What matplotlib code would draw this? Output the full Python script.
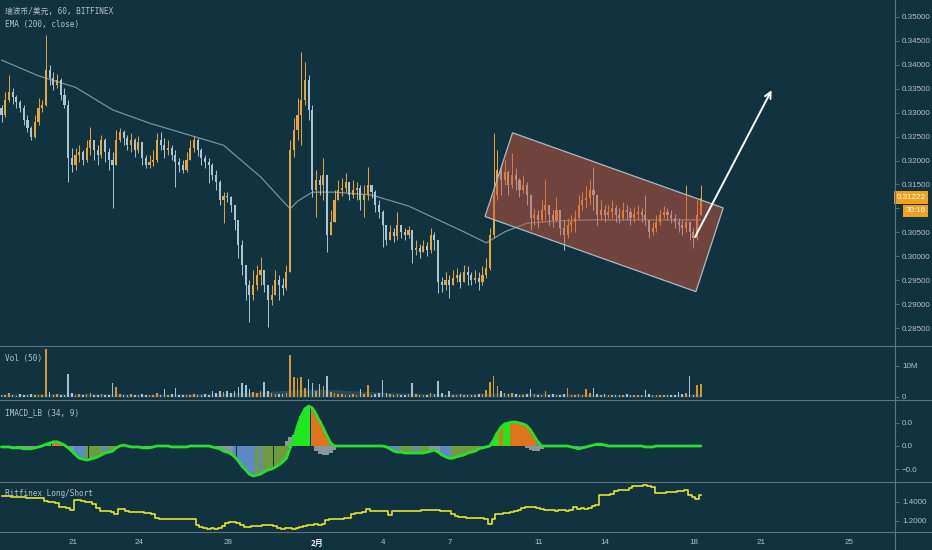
import matplotlib
matplotlib.use('Agg')
import matplotlib.pyplot as plt
import numpy as np
from matplotlib.patches import Polygon
from matplotlib.lines import Line2D
from matplotlib.ticker import FuncFormatter
import matplotlib.transforms as mtransforms

plt.rcParams['font.family'] = ['Liberation Sans', 'Noto Sans CJK SC', 'DejaVu Sans']

BG = '#11333f'
TXT = '#b3c2ca'
SEP = '#5a7684'
UP = '#e9a53b'
DN = '#a9c6d6'

# ---------------- data (4-hour bars, x in day-of-January units) ----------------
start_day = 17.8
step_days = 4 / 24
open0 = 0.3310

close = [
    0.3295, 0.3327, 0.3343, 0.3333, 0.3322, 0.3310, 0.3285, 0.3268, 0.3249, 0.3281,
    0.3310, 0.3316, 0.3389, 0.3372, 0.3358, 0.3368, 0.3337, 0.3316, 0.3205, 0.3191,
    0.3212, 0.3218, 0.3201, 0.3226, 0.3243, 0.3222, 0.3212, 0.3243, 0.3218, 0.3201,
    0.3191, 0.3243, 0.3260, 0.3247, 0.3232, 0.3243, 0.3222, 0.3239, 0.3205, 0.3191,
    0.3197, 0.3201, 0.3243, 0.3232, 0.3222, 0.3226, 0.3212, 0.3197, 0.3191, 0.3180,
    0.3201, 0.3226, 0.3243, 0.3222, 0.3205, 0.3197, 0.3191, 0.3170, 0.3155, 0.3118,
    0.3126, 0.3124, 0.3107, 0.3076, 0.3023, 0.2982, 0.2940, 0.2919, 0.2940, 0.2961,
    0.2971, 0.2940, 0.2909, 0.2919, 0.2950, 0.2940, 0.2934, 0.2967, 0.3222, 0.3264,
    0.3295, 0.3327, 0.3368, 0.3306, 0.3138, 0.3159, 0.3149, 0.3170, 0.3044, 0.3072,
    0.3118, 0.3138, 0.3143, 0.3155, 0.3128, 0.3138, 0.3143, 0.3118, 0.3128, 0.3149,
    0.3134, 0.3107, 0.3092, 0.3065, 0.3034, 0.3051, 0.3042, 0.3065, 0.3051, 0.3044,
    0.3055, 0.3013, 0.3017, 0.3009, 0.3021, 0.3013, 0.3044, 0.3034, 0.2946, 0.2940,
    0.2950, 0.2940, 0.2954, 0.2961, 0.2946, 0.2967, 0.2961, 0.2950, 0.2954, 0.2946,
    0.2961, 0.2975, 0.3044, 0.3128, 0.3180, 0.3159, 0.3176, 0.3149, 0.3170, 0.3159,
    0.3138, 0.3149, 0.3128, 0.3080, 0.3086, 0.3076, 0.3097, 0.3107, 0.3086, 0.3076,
    0.3097, 0.3059, 0.3044, 0.3065, 0.3072, 0.3080, 0.3107, 0.3118, 0.3122, 0.3138,
    0.3128, 0.3086, 0.3097, 0.3086, 0.3092, 0.3101, 0.3086, 0.3080, 0.3097, 0.3092,
    0.3080, 0.3088, 0.3092, 0.3086, 0.3076, 0.3051, 0.3059, 0.3072, 0.3086, 0.3092,
    0.3086, 0.3080, 0.3072, 0.3065, 0.3059, 0.3072, 0.3051, 0.3038, 0.3086, 0.31222,
]

high = [
    0.3316, 0.3343, 0.3379, 0.3352, 0.3337, 0.3327, 0.3316, 0.3295, 0.3272, 0.3295,
    0.3331, 0.3327, 0.3462, 0.3400, 0.3385, 0.3381, 0.3372, 0.3352, 0.3327, 0.3226,
    0.3226, 0.3232, 0.3222, 0.3243, 0.3270, 0.3243, 0.3232, 0.3253, 0.3247, 0.3226,
    0.3218, 0.3264, 0.3268, 0.3264, 0.3253, 0.3258, 0.3247, 0.3251, 0.3232, 0.3212,
    0.3212, 0.3222, 0.3258, 0.3260, 0.3247, 0.3243, 0.3232, 0.3222, 0.3205, 0.3201,
    0.3218, 0.3243, 0.3251, 0.3247, 0.3226, 0.3212, 0.3205, 0.3195, 0.3180, 0.3159,
    0.3134, 0.3134, 0.3126, 0.3107, 0.3065, 0.3034, 0.2971, 0.2950, 0.2971, 0.2982,
    0.2998, 0.2971, 0.2940, 0.2940, 0.2971, 0.2961, 0.2954, 0.2982, 0.3243, 0.3289,
    0.3331, 0.3427, 0.3406, 0.3379, 0.3316, 0.3180, 0.3170, 0.3205, 0.3159, 0.3097,
    0.3138, 0.3159, 0.3163, 0.3174, 0.3153, 0.3159, 0.3155, 0.3149, 0.3149, 0.3186,
    0.3149, 0.3138, 0.3118, 0.3097, 0.3065, 0.3065, 0.3059, 0.3092, 0.3065, 0.3059,
    0.3063, 0.3055, 0.3034, 0.3026, 0.3034, 0.3030, 0.3059, 0.3051, 0.3034, 0.2957,
    0.2967, 0.2961, 0.2971, 0.2975, 0.2967, 0.2982, 0.2980, 0.2967, 0.2971, 0.2967,
    0.2980, 0.2996, 0.3059, 0.3258, 0.3222, 0.3191, 0.3201, 0.3180, 0.3216, 0.3184,
    0.3163, 0.3170, 0.3155, 0.3128, 0.3101, 0.3097, 0.3118, 0.3159, 0.3107, 0.3097,
    0.3124, 0.3097, 0.3076, 0.3080, 0.3086, 0.3097, 0.3128, 0.3134, 0.3149, 0.3159,
    0.3186, 0.3128, 0.3118, 0.3107, 0.3107, 0.3118, 0.3107, 0.3101, 0.3113, 0.3107,
    0.3101, 0.3103, 0.3107, 0.3101, 0.3128, 0.3076, 0.3072, 0.3086, 0.3097, 0.3105,
    0.3101, 0.3097, 0.3088, 0.3080, 0.3076, 0.3149, 0.3072, 0.3059, 0.3118, 0.3149,
]

low = [
    0.3281, 0.3291, 0.3322, 0.3318, 0.3310, 0.3301, 0.3274, 0.3260, 0.3243, 0.3247,
    0.3274, 0.3301, 0.3314, 0.3358, 0.3347, 0.3352, 0.3327, 0.3310, 0.3155, 0.3176,
    0.3180, 0.3197, 0.3191, 0.3197, 0.3212, 0.3201, 0.3191, 0.3205, 0.3197, 0.3180,
    0.3101, 0.3201, 0.3239, 0.3232, 0.3222, 0.3218, 0.3207, 0.3216, 0.3191, 0.3184,
    0.3184, 0.3189, 0.3197, 0.3222, 0.3205, 0.3212, 0.3201, 0.3145, 0.3176, 0.3174,
    0.3176, 0.3201, 0.3218, 0.3209, 0.3191, 0.3184, 0.3153, 0.3159, 0.3138, 0.3107,
    0.3069, 0.3113, 0.3092, 0.3055, 0.2996, 0.2961, 0.2909, 0.2863, 0.2909, 0.2929,
    0.2940, 0.2925, 0.2852, 0.2898, 0.2929, 0.2909, 0.2919, 0.2929, 0.2967, 0.3207,
    0.3243, 0.3232, 0.3316, 0.3285, 0.3124, 0.3082, 0.3128, 0.3118, 0.3009, 0.3044,
    0.3086, 0.3118, 0.3126, 0.3134, 0.3118, 0.3122, 0.3118, 0.3097, 0.3082, 0.3118,
    0.3122, 0.3092, 0.3080, 0.3019, 0.3023, 0.3034, 0.3030, 0.3034, 0.3038, 0.3034,
    0.3038, 0.2986, 0.3003, 0.2996, 0.3009, 0.3000, 0.3007, 0.3013, 0.2923, 0.2925,
    0.2929, 0.2913, 0.2940, 0.2946, 0.2934, 0.2950, 0.2940, 0.2940, 0.2944, 0.2929,
    0.2940, 0.2954, 0.2971, 0.3038, 0.3118, 0.3128, 0.3149, 0.3128, 0.3143, 0.3138,
    0.3124, 0.3132, 0.3107, 0.3055, 0.3065, 0.3059, 0.3072, 0.3076, 0.3065, 0.3061,
    0.3072, 0.3044, 0.3013, 0.3038, 0.3051, 0.3051, 0.3076, 0.3097, 0.3101, 0.3107,
    0.3097, 0.3065, 0.3076, 0.3072, 0.3080, 0.3080, 0.3072, 0.3069, 0.3076, 0.3076,
    0.3065, 0.3072, 0.3076, 0.3072, 0.3065, 0.3038, 0.3044, 0.3051, 0.3065, 0.3080,
    0.3076, 0.3069, 0.3059, 0.3051, 0.3044, 0.3051, 0.3034, 0.3017, 0.3034, 0.3086,
]

# EMA(200) read at selected bars
ema_idx = [0, 10, 20, 30, 40, 50, 60, 70, 78, 80, 84, 90, 100, 110, 120, 125, 131,
           136, 142, 150, 160, 170, 180, 189]
ema_val = [0.3410, 0.3377, 0.3353, 0.3306, 0.3278, 0.3255, 0.3232, 0.3166, 0.3099,
           0.3115, 0.3134, 0.3134, 0.3128, 0.3105, 0.3069, 0.3051, 0.3028, 0.3051,
           0.3069, 0.3074, 0.3076, 0.3076, 0.3076, 0.3076]

# volume in millions
volume_m = [
    0.5, 0.8, 1.2, 0.6, 0.4, 0.9, 0.5, 0.7, 1.1, 0.6,
    0.8, 0.5, 15.5, 1.5, 0.6, 0.9, 0.5, 0.7, 7.4, 1.2,
    0.8, 1.0, 0.6, 0.9, 1.3, 0.7, 0.5, 0.9, 0.6, 0.8,
    4.5, 3.2, 0.9, 0.6, 0.7, 1.0, 0.5, 0.8, 1.1, 0.6,
    0.5, 0.7, 1.4, 0.8, 2.6, 0.6, 0.9, 2.9, 0.7, 0.5,
    0.8, 0.6, 1.0, 0.7, 0.5, 0.9, 0.8, 2.0, 1.2, 2.0,
    1.5, 2.0, 1.4, 1.8, 3.2, 4.5, 4.0, 2.5, 1.5, 1.2,
    1.8, 4.8, 2.0, 1.3, 1.1, 0.9, 1.0, 1.4, 13.5, 6.5,
    6.0, 6.5, 3.0, 5.8, 4.5, 2.0, 4.3, 3.5, 6.8, 1.5,
    1.2, 0.9, 1.0, 0.8, 0.7, 1.1, 0.6, 2.6, 0.9, 3.9,
    0.8, 1.0, 1.2, 5.5, 1.4, 0.9, 0.8, 1.1, 0.7, 0.6,
    0.9, 4.5, 1.0, 0.7, 0.6, 0.8, 1.2, 0.9, 5.2, 1.4,
    0.8, 1.9, 0.7, 0.6, 0.9, 0.5, 0.8, 0.6, 0.7, 0.9,
    1.0, 2.3, 4.8, 6.8, 3.5, 1.8, 1.2, 0.9, 1.4, 1.0,
    0.8, 0.7, 1.0, 2.5, 0.9, 0.8, 0.6, 2.0, 0.7, 0.9,
    0.6, 0.8, 1.1, 2.8, 0.7, 0.6, 0.9, 0.8, 2.6, 1.2,
    2.8, 1.0, 0.7, 0.9, 0.6, 0.5, 0.8, 0.7, 0.6, 0.9,
    0.5, 0.7, 0.8, 0.6, 2.3, 0.9, 0.6, 0.5, 0.7, 0.6,
    0.8, 0.5, 0.7, 1.5, 0.9, 1.2, 6.8, 0.8, 3.9, 4.3,
]
vma_idx = [0, 20, 40, 60, 70, 78, 85, 95, 105, 120, 133, 145, 160, 175, 189]
vma_val = [1.0, 1.1, 0.9, 1.2, 1.6, 2.2, 2.6, 2.0, 1.4, 1.0, 1.3, 1.2, 0.9, 0.8, 1.0]

# Impulse MACD line (thousandths)
macd_milli = [
    -0.2, -0.2, -0.2, -0.4, -0.4, -0.4, -0.6, -0.6, -0.6, -0.4,
    -0.2, 0.0, 0.4, 0.6, 0.9, 0.9, 0.6, 0.2, -0.4, -1.1,
    -1.9, -2.6, -2.8, -3.0, -2.8, -2.6, -2.3, -1.9, -1.5, -1.3,
    -1.1, -0.4, 0.0, 0.2, 0.0, -0.2, -0.2, -0.2, -0.4, -0.4,
    -0.4, -0.2, 0.0, 0.0, 0.0, 0.0, -0.2, -0.2, -0.2, -0.2,
    -0.2, 0.0, 0.0, 0.0, 0.0, 0.0, 0.0, -0.2, -0.4, -0.6,
    -1.1, -1.3, -1.7, -2.3, -3.2, -4.3, -5.1, -6.0, -6.4, -6.2,
    -6.0, -5.5, -5.1, -4.9, -4.5, -4.0, -3.4, -2.6, -0.4, 1.7,
    4.3, 6.4, 7.9, 8.5, 8.1, 6.8, 5.3, 3.8, 2.1, 0.6,
    0.0, 0.0, 0.0, 0.0, 0.0, 0.0, 0.0, 0.0, 0.0, 0.0,
    0.0, 0.0, 0.0, 0.0, -0.2, -0.6, -1.1, -1.3, -1.3, -1.5,
    -1.5, -1.5, -1.5, -1.5, -1.5, -1.3, -1.1, -0.9, -1.3, -1.9,
    -2.3, -2.6, -2.6, -2.3, -2.1, -1.9, -1.5, -1.3, -1.1, -0.6,
    -0.4, -0.2, 0.0, 1.3, 2.8, 4.0, 4.7, 4.9, 5.1, 5.1,
    4.9, 4.7, 4.3, 3.4, 2.1, 0.9, 0.0, 0.0, 0.0, 0.0,
    0.0, 0.0, 0.0, 0.0, -0.2, -0.4, -0.6, -0.4, -0.2, 0.0,
    0.2, 0.4, 0.4, 0.2, 0.0, 0.0, 0.0, 0.0, 0.0, 0.0,
    0.0, 0.0, 0.0, 0.0, -0.2, -0.2, -0.2, 0.0, 0.0, 0.0,
    0.0, 0.0, 0.0, 0.0, 0.0, 0.0, 0.0, 0.0, 0.0, 0.0,
]
# histogram colour runs: g=lime, o=orange, v=olive, b=blue, y=grey
hist_runs = [('y', 11), ('g', 3), ('o', 4), ('y', 2), ('b', 3), ('v', 5), ('b', 1),
             ('v', 3), ('y', 27), ('y', 4), ('b', 6), ('v', 1), ('b', 1), ('v', 7),
             ('g', 6), ('o', 5), ('b', 2), ('y', 13), ('b', 4), ('v', 4), ('b', 1),
             ('v', 3), ('y', 3), ('b', 3), ('v', 10), ('g', 3), ('o', 1), ('g', 2),
             ('o', 1), ('o', 6), ('b', 2), ('y', 7), ('b', 5), ('y', 1), ('g', 4),
             ('y', 26)]
gray_idx = [77, 78, 79, 80, 85, 86, 87, 88, 89, 90, 142, 143, 144, 145, 146]
gray_milli = [1.0, 2.0, 2.3, 1.5, -1.0, -1.7, -1.9, -1.9, -1.5, -0.8,
              -0.4, -0.8, -1.1, -1.1, -0.6]

# Bitfinex long/short ratio
long_short = [
    1.46, 1.46, 1.46, 1.45, 1.45, 1.45, 1.45, 1.44, 1.44, 1.44,
    1.44, 1.44, 1.41, 1.40, 1.40, 1.39, 1.35, 1.35, 1.34, 1.32,
    1.42, 1.42, 1.41, 1.40, 1.40, 1.38, 1.34, 1.31, 1.30, 1.30,
    1.29, 1.27, 1.33, 1.33, 1.31, 1.29, 1.29, 1.29, 1.29, 1.28,
    1.28, 1.27, 1.23, 1.22, 1.22, 1.22, 1.22, 1.22, 1.22, 1.22,
    1.22, 1.22, 1.22, 1.16, 1.14, 1.13, 1.12, 1.13, 1.12, 1.13,
    1.15, 1.18, 1.19, 1.19, 1.18, 1.16, 1.14, 1.14, 1.15, 1.15,
    1.15, 1.16, 1.16, 1.16, 1.15, 1.13, 1.12, 1.13, 1.13, 1.12,
    1.13, 1.14, 1.15, 1.16, 1.16, 1.17, 1.16, 1.17, 1.21, 1.22,
    1.22, 1.22, 1.22, 1.23, 1.23, 1.27, 1.28, 1.28, 1.29, 1.33,
    1.30, 1.30, 1.30, 1.30, 1.30, 1.26, 1.31, 1.31, 1.31, 1.31,
    1.31, 1.31, 1.31, 1.31, 1.32, 1.32, 1.32, 1.32, 1.32, 1.31,
    1.31, 1.31, 1.27, 1.25, 1.24, 1.24, 1.23, 1.23, 1.23, 1.23,
    1.23, 1.22, 1.17, 1.22, 1.27, 1.27, 1.28, 1.28, 1.29, 1.30,
    1.32, 1.34, 1.35, 1.35, 1.35, 1.34, 1.33, 1.32, 1.32, 1.32,
    1.31, 1.32, 1.32, 1.31, 1.32, 1.35, 1.33, 1.34, 1.33, 1.34,
    1.36, 1.37, 1.47, 1.47, 1.47, 1.48, 1.52, 1.53, 1.53, 1.53,
    1.55, 1.57, 1.57, 1.57, 1.58, 1.57, 1.56, 1.49, 1.49, 1.49,
    1.50, 1.50, 1.51, 1.52, 1.52, 1.53, 1.47, 1.45, 1.43, 1.47,
]

# channel drawing (day, price) and arrow
channel_days = [40.82, 39.58, 49.08, 50.31]
channel_prices = [0.3258, 0.3083, 0.2926, 0.3101]
arrow_from = (49.04, 0.3040)
arrow_to = (52.49, 0.3347)

tick_days = [21, 24, 28, 32, 35, 38, 42, 45, 49, 52, 56]
tick_labels = ['21', '24', '28', '2月', '4', '7', '11', '14', '18', '21', '25']
price_ticks = [0.350, 0.345, 0.340, 0.335, 0.330, 0.325, 0.320, 0.315, 0.310,
               0.305, 0.300, 0.295, 0.290, 0.285]
countdown = '30:16'

# ---------------- figure ----------------
W, H = 932, 550
fig = plt.figure(figsize=(W / 100, H / 100), dpi=100, facecolor=BG)
AXW = 895 / W


def pane(top_px, bot_px):
    ax = fig.add_axes([0, 1 - bot_px / H, AXW, (bot_px - top_px) / H])
    ax.set_facecolor(BG)
    for s in ax.spines.values():
        s.set_visible(False)
    ax.yaxis.tick_right()
    ax.tick_params(axis='y', direction='out', length=3, width=0.6, color=SEP,
                   labelcolor=TXT, labelsize=5.8, pad=2)
    ax.tick_params(axis='x', length=0, labelbottom=False)
    ax.set_xlim(17.73, 58.05)
    return ax


ax_p = pane(0, 345)
ax_v = pane(346, 400)
ax_m = pane(400, 482)
ax_l = pane(482, 532)

n = len(close)
t = start_day + step_days * np.arange(n)
cl = np.array(close)
op = np.array([open0] + close[:-1])
hi = np.maximum.reduce([np.array(high), op, cl])
lo = np.minimum.reduce([np.array(low), op, cl])
upm = cl >= op
cols = np.where(upm, UP, DN)

# price pane
ax_p.set_ylim(0.28145, 0.35355)
ax_p.set_yticks(price_ticks)
# the last-price/countdown badges cover the 0.31000 label in the reference
ax_p.set_yticklabels(['' if abs(v - 0.310) < 1e-9 else f'{v:.5f}' for v in price_ticks])
ax_p.plot(t[ema_idx], ema_val, color='#86a3b1', lw=0.9, alpha=0.85, zorder=2)
ax_p.vlines(t, lo, hi, colors=cols, lw=0.7, zorder=3)
ax_p.bar(t, np.maximum(np.abs(cl - op), 0.00012), bottom=np.minimum(op, cl),
         width=0.095, color=cols, lw=0, zorder=3)
ax_p.add_patch(Polygon(list(zip(channel_days, channel_prices)), closed=True,
                       facecolor='#d0553c', alpha=0.5, edgecolor='none', zorder=4))
ax_p.add_patch(Polygon(list(zip(channel_days, channel_prices)), closed=True,
                       facecolor='none', edgecolor='#a9bcc6', lw=0.9, zorder=4))
ax_p.annotate('', xy=arrow_to, xytext=arrow_from,
              arrowprops=dict(arrowstyle='->', color='white', lw=1.4,
                              mutation_scale=11, shrinkA=0, shrinkB=0), zorder=6)
trans = mtransforms.blended_transform_factory(ax_p.transAxes, ax_p.transData)
ax_p.text(1.0015, cl[-1], f'{cl[-1]:.5f}', transform=trans, ha='left', va='center',
          fontsize=5.8, color='white', clip_on=False, zorder=10,
          bbox=dict(boxstyle='square,pad=0.35', fc='#f2a11e', ec='none'))
ax_p.annotate(countdown, xy=(1.0, cl[-1]), xycoords=trans, xytext=(15, -9.3),
              textcoords='offset points', ha='center', va='center', fontsize=5.8,
              color='white', annotation_clip=False, zorder=10,
              bbox=dict(boxstyle='square,pad=0.3', fc='#f2a11e', ec='none'))

# volume pane
vol = np.array(volume_m) * 1e6
ax_v.set_ylim(-0.97e6, 16.45e6)
ax_v.fill_between(t[vma_idx], 0, np.array(vma_val) * 1e6, color='#8aa2ad',
                  alpha=0.22, lw=0)
ax_v.bar(t, vol, width=0.07, color=np.where(upm, '#d9952f', '#a3c2d3'), lw=0)
ax_v.set_yticks([10e6, 0])
ax_v.set_yticklabels(['10M', '0'])

# MACD pane
HC = {'g': '#1ee81e', 'o': '#e0741c', 'v': '#6f9a3e', 'b': '#5c88c6', 'y': '#8b969b'}
codes = ''.join(c * k for c, k in hist_runs)
mac = np.array(macd_milli) * 1e-3
ax_m.set_ylim(-0.00767, 0.0098)
ax_m.bar(t[gray_idx], np.array(gray_milli) * 1e-3, width=step_days, color=HC['y'], lw=0)
ax_m.bar(t, mac, width=step_days * 0.98, color=[HC[c] for c in codes], lw=0)
ax_m.plot(t, mac, color='#27e02a', lw=2.0, solid_capstyle='round')
ax_m.set_yticks([0.005, 0.0, -0.005])
ax_m.yaxis.set_major_formatter(FuncFormatter(lambda v, p: f'{v:.1f}'.replace('-', '−')))

# Long/short pane
ax_l.set_ylim(1.0842, 1.6105)
ax_l.plot(t, long_short, color='#e3e52c', lw=1.2, drawstyle='steps-mid')
ax_l.set_yticks([1.4, 1.2])
ax_l.yaxis.set_major_formatter(FuncFormatter(lambda v, p: f'{v:.4f}'))
ax_l.set_xticks(tick_days)
ax_l.set_xticklabels(tick_labels)
ax_l.tick_params(axis='x', labelbottom=True, length=0, pad=5, labelsize=5.8,
                 labelcolor=TXT)
for lbl in ax_l.get_xticklabels():
    if lbl.get_text() == '2月':
        lbl.set_fontfamily(['Noto Sans CJK SC', 'DejaVu Sans'])
        lbl.set_fontweight('bold')
        lbl.set_color('#e8eef1')

# separators
for yp in [345.5, 400, 482, 532]:
    fig.add_artist(Line2D([0, 1], [1 - yp / H, 1 - yp / H], transform=fig.transFigure,
                          color=SEP, lw=0.8))
fig.add_artist(Line2D([AXW, AXW], [0, 1], transform=fig.transFigure, color=SEP, lw=0.8))

# legend texts
MONO = ['DejaVu Sans Mono', 'Noto Sans CJK SC']
for txt, yp in [('瑞波币/美元, 60, BITFINEX', 11.5), ('EMA (200, close)', 24),
                ('Vol (50)', 358), ('IMACD_LB (34, 9)', 413),
                ('Bitfinex Long/Short', 494)]:
    fig.text(5 / W, 1 - yp / H, txt, family=MONO, fontsize=5.6, color=TXT,
             ha='left', va='center')

fig.savefig('out.png', dpi=100, facecolor=BG)
